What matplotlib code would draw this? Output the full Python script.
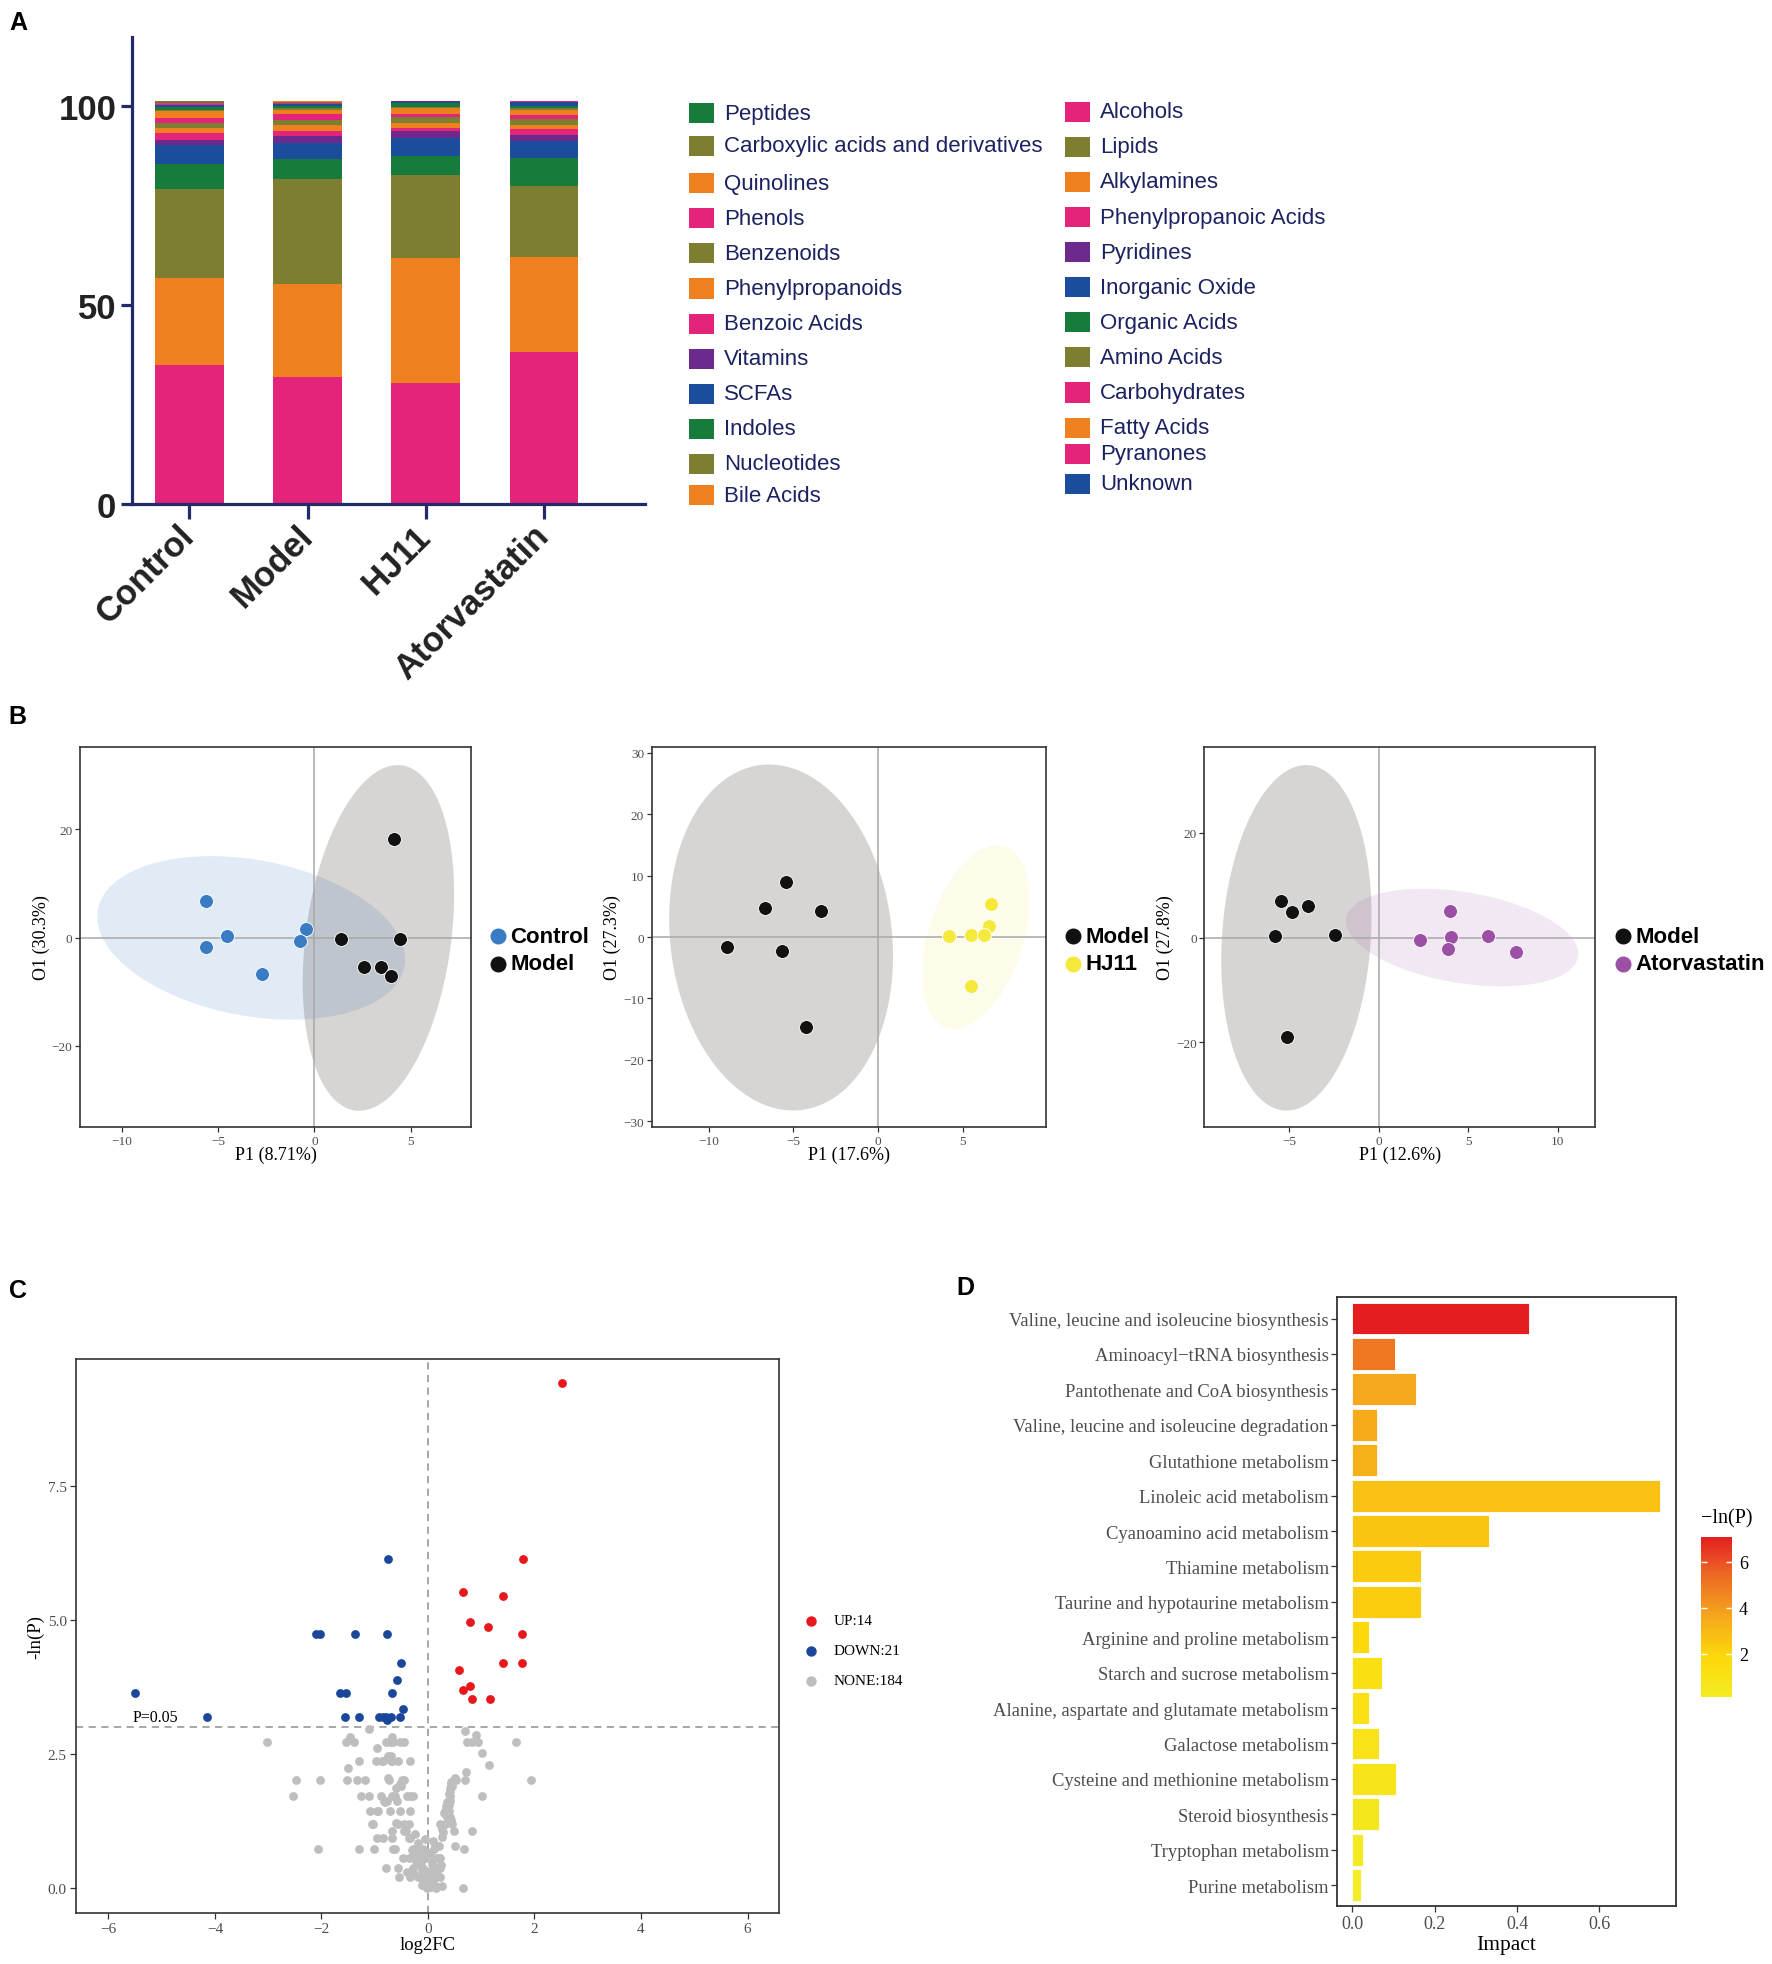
import numpy as np
import matplotlib
matplotlib.use("Agg")
import matplotlib.pyplot as plt
from matplotlib.lines import Line2D
from matplotlib.patches import Rectangle
from matplotlib.colors import LinearSegmentedColormap, Normalize
from matplotlib.cm import ScalarMappable

SANS = "Liberation Sans"
SERIF = "Liberation Serif"

# ---- panel A: metabolite classes (stacked, bottom -> top) ----
groups = ["Control", "Model", "HJ11", "Atorvastatin"]

PINK, ORANGE, OLIVE = "#E4247A", "#EE8020", "#7D7E2F"
GREEN, BLUE, PURPLE = "#167B3B", "#1B4D9C", "#6B2A8C"

class_names = [
    "Alcohols", "Bile Acids", "Nucleotides", "Indoles", "SCFAs", "Vitamins",
    "Benzoic Acids", "Phenylpropanoids", "Benzenoids", "Phenols", "Quinolines",
    "Carboxylic acids and derivatives", "Peptides", "Unknown", "Pyranones",
    "Fatty Acids", "Carbohydrates", "Amino Acids", "Organic Acids",
    "Inorganic Oxide", "Pyridines", "Phenylpropanoic Acids", "Alkylamines", "Lipids",
]
class_colors = [
    PINK, ORANGE, OLIVE, GREEN, BLUE, PURPLE,
    PINK, ORANGE, OLIVE, PINK, ORANGE,
    OLIVE, GREEN, BLUE, PINK,
    ORANGE, PINK, OLIVE, GREEN,
    BLUE, PURPLE, PINK, ORANGE, OLIVE,
]
control_pct = [34.8, 21.8, 22.4, 6.4, 4.6, 1.4, 1.6, 1.4, 1.2, 1.3, 1.7, 0.4,
               0.6, 0.6, 0.15, 0.05, 0.1, 0.05, 0.05, 0.1, 0.05, 0.2, 0.05, 0.05]
model_pct = [31.8, 23.4, 26.3, 5.1, 4.0, 1.7, 1.2, 1.5, 1.3, 1.6, 1.1, 0.4,
             0.4, 0.7, 0.1, 0.05, 0.1, 0.05, 0.05, 0.05, 0.05, 0.05, 0.05, 0.05]
hj11_pct = [30.4, 31.4, 20.7, 4.9, 4.5, 1.7, 0.8, 1.3, 1.4, 0.7, 1.6, 0.3,
            1.0, 0.1, 0.02, 0.1, 0.02, 0.02, 0.02, 0.02, 0.02, 0.02, 0.04, 0.02]
atorva_pct = [38.2, 23.9, 17.8, 6.9, 4.2, 1.5, 1.5, 1.1, 1.4, 1.1, 1.4, 0.3,
              0.6, 1.0, 0.05, 0.05, 0.05, 0.05, 0.02, 0.02, 0.05, 0.02, 0.02, 0.02]

legend_col1 = ["Peptides", "Carboxylic acids and derivatives", "Quinolines", "Phenols",
               "Benzenoids", "Phenylpropanoids", "Benzoic Acids", "Vitamins", "SCFAs",
               "Indoles", "Nucleotides", "Bile Acids"]
legend_col2 = ["Alcohols", "Lipids", "Alkylamines", "Phenylpropanoic Acids", "Pyridines",
               "Inorganic Oxide", "Organic Acids", "Amino Acids", "Carbohydrates",
               "Fatty Acids", "Pyranones", "Unknown"]

# ---- panel B: OPLS-DA scores (P1, O1) ----
b1_control_x = [-5.66, -4.53, -5.64, -2.73, -0.43, -0.75]
b1_control_y = [6.85, 0.30, -1.67, -6.80, 1.54, -0.60]
b1_model_x = [4.12, 1.39, 4.46, 2.55, 3.44, 3.96]
b1_model_y = [18.2, -0.3, -0.3, -5.45, -5.45, -7.1]

b2_model_x = [-5.46, -6.69, -3.35, -8.90, -5.70, -4.26]
b2_model_y = [8.98, 4.79, 4.25, -1.58, -2.29, -14.6]
b2_hj11_x = [6.67, 6.56, 4.18, 5.46, 6.24, 5.51]
b2_hj11_y = [5.44, 1.74, 0.10, 0.40, 0.30, -8.0]

b3_model_x = [-5.45, -4.88, -3.97, -5.79, -2.43, -5.15]
b3_model_y = [7.05, 4.80, 6.10, 0.20, 0.50, -19.0]
b3_atorva_x = [3.95, 2.32, 4.01, 3.86, 6.12, 7.67]
b3_atorva_y = [5.0, -0.5, 0.1, -2.1, 0.3, -2.8]

# ---- panel C: volcano ----
up_x = [2.52, 1.78, 0.66, 1.41, 0.79, 1.12, 1.76, 1.41, 1.76, 0.58, 0.78, 0.66, 0.83, 1.16]
up_y = [9.41, 6.13, 5.51, 5.44, 4.96, 4.87, 4.74, 4.19, 4.19, 4.07, 3.76, 3.70, 3.53, 3.53]
down_x = [-0.75, -2.11, -2.02, -1.37, -0.76, -0.51, -0.58, -5.50, -1.66, -1.53, -0.68,
          -0.46, -4.14, -1.56, -1.29, -0.91, -0.85, -0.78, -0.70, -0.53, -0.76]
down_y = [6.13, 4.74, 4.74, 4.74, 4.74, 4.19, 3.88, 3.64, 3.64, 3.64, 3.64,
          3.33, 3.19, 3.19, 3.19, 3.19, 3.19, 3.19, 3.19, 3.19, 3.13]
none_x = [
    -1.11, 0.69, 0.91, -1.47, -0.67,
    -3.02, -1.54, -1.39, -0.78, -0.72, -0.66, -0.52, -0.45, 0.74, 0.83, 0.94, 1.66,
    -0.95, 1.02, -0.70, -0.75,
    -1.29, -0.98, -0.87, -0.70, -0.56, -0.34, 1.15, -1.51, 0.72,
    -2.47, -2.03, -1.52, -1.34, -1.19, -0.73, -0.49, 0.48, 0.53, 0.70, 1.94,
    -0.53, 0.44, 0.42, -0.60,
    -2.53, -1.26, -1.11, -0.67, -0.61, -0.39, -0.33, -0.28, 0.42, 1.02,
    -0.82, -0.77, 0.41, 0.34, 0.38,
    -1.08, -0.96, -0.72, -0.53, -0.34, 0.32, 0.35, 0.40,
    0.35, 0.42, 0.43,
    -1.04, -0.57, -0.35, 0.23, 0.32, 0.46,
    -0.68, -0.41, 0.49, 0.83,
    -0.96, -0.84, -0.68, -0.36, 0.51,
    -2.06, -1.29, -1.01, -0.66, -0.28, -0.18, -0.09, 0.11, 0.68,
    -0.24, -0.15, -0.07,
    -0.46, -0.35, -0.20, -0.05, 0.16, 0.20, 0.23, -0.13,
    -0.78, -0.57, -0.28, -0.09, 0.10, 0.19, 0.23,
    -0.27, -0.05, 0.06, 0.12,
    -0.54, -0.34, -0.18, 0.16, 0.22,
    -0.09, 0.01, 0.08,
    -0.05, 0.03, 0.09, 0.16, 0.27,
    -0.01, 0.16, 0.66,
    -0.12, 0.00, 0.05, -0.08, 0.12, -0.03, 0.02, 0.15, -0.15, 0.07, -0.22, 0.09, -0.10,
    0.03, -0.30, 0.20, -0.18, 0.10, -0.05, 0.27, -0.25, 0.29, -0.12, 0.25, -0.40, -0.02,
    -0.45, -0.60, -0.80, -0.88, -0.58, -0.50, -0.75, -0.45, -0.68, -0.85, -0.94, -0.45,
    -0.33, -0.62, -1.06,
    0.36, 0.39, 0.44, 0.50, 0.30, 0.27, 0.40, 0.14, 0.42, 0.45,
]
none_y = [
    2.97, 2.93, 2.85, 2.81, 2.81,
    2.73, 2.73, 2.73, 2.73, 2.73, 2.73, 2.73, 2.73, 2.73, 2.73, 2.73, 2.73,
    2.61, 2.52, 2.46, 2.46,
    2.37, 2.37, 2.37, 2.37, 2.37, 2.37, 2.30, 2.24, 2.16,
    2.02, 2.02, 2.02, 2.02, 2.02, 2.02, 2.02, 2.02, 2.02, 2.02, 2.02,
    1.93, 1.93, 1.86, 1.86,
    1.72, 1.72, 1.72, 1.72, 1.72, 1.72, 1.72, 1.72, 1.72, 1.72,
    1.63, 1.63, 1.63, 1.52, 1.52,
    1.43, 1.43, 1.43, 1.43, 1.43, 1.43, 1.43, 1.43,
    1.33, 1.33, 1.26,
    1.19, 1.19, 1.19, 1.19, 1.19, 1.19,
    1.07, 1.07, 1.07, 1.07,
    0.94, 0.94, 0.94, 0.94, 0.78,
    0.73, 0.73, 0.73, 0.73, 0.73, 0.73, 0.73, 0.73, 0.73,
    0.63, 0.63, 0.63,
    0.56, 0.56, 0.56, 0.56, 0.56, 0.56, 0.56, 0.48,
    0.37, 0.37, 0.37, 0.37, 0.37, 0.37, 0.37,
    0.26, 0.26, 0.26, 0.26,
    0.20, 0.20, 0.20, 0.20, 0.20,
    0.11, 0.11, 0.11,
    0.04, 0.04, 0.04, 0.04, 0.04,
    0.00, 0.00, 0.00,
    0.05, 0.08, 0.02, 0.15, 0.18, 0.22, 0.30, 0.33, 0.41, 0.45, 0.50, 0.52, 0.60,
    0.66, 0.70, 0.78, 0.83, 0.88, 0.92, 0.95, 1.00, 1.05, 0.33, 0.42, 0.30, 0.12,
    1.20, 1.22, 1.60, 1.72, 1.63, 1.90, 2.05, 2.02, 2.37, 2.37, 1.43, 1.07,
    0.94, 0.73, 1.19,
    1.60, 1.75, 1.98, 2.05, 1.40, 1.10, 1.55, 0.80, 1.80, 1.90,
]

# ---- panel D: pathway analysis ----
pathways = [
    "Valine, leucine and isoleucine biosynthesis", "Aminoacyl\u2212tRNA biosynthesis",
    "Pantothenate and CoA biosynthesis", "Valine, leucine and isoleucine degradation",
    "Glutathione metabolism", "Linoleic acid metabolism", "Cyanoamino acid metabolism",
    "Thiamine metabolism", "Taurine and hypotaurine metabolism",
    "Arginine and proline metabolism", "Starch and sucrose metabolism",
    "Alanine, aspartate and glutamate metabolism", "Galactose metabolism",
    "Cysteine and methionine metabolism", "Steroid biosynthesis",
    "Tryptophan metabolism", "Purine metabolism",
]
impact = [0.429, 0.104, 0.154, 0.059, 0.059, 0.748, 0.333, 0.166, 0.166,
          0.041, 0.071, 0.040, 0.065, 0.106, 0.065, 0.025, 0.020]
neg_ln_p = [7.09, 5.0, 3.6, 3.5, 3.3, 2.7, 2.55, 2.35, 2.3,
            1.8, 1.25, 1.2, 1.0, 0.8, 0.6, 0.35, 0.13]

# layout is measured on a 1414 x 1568 view of the figure
W, H = 1414.0, 1568.0


def frame(x0, y0, x1, y1):
    return [x0 / W, 1 - y1 / H, (x1 - x0) / W, (y1 - y0) / H]


def at(x, y):
    return (x / W, 1 - y / H)


def conf_ellipse(xs, ys, level=0.95, n=200):
    # normal-theory ellipse like ggplot's stat_ellipse(type = "norm")
    pts = np.column_stack([xs, ys])
    centre = pts.mean(axis=0)
    chol = np.linalg.cholesky(np.cov(pts, rowvar=False))
    dfd = len(xs) - 1
    q = dfd / 2 * ((1 - level) ** (-2 / dfd) - 1)  # F(2, dfd) quantile
    t = np.linspace(0, 2 * np.pi, n)
    circle = np.column_stack([np.cos(t), np.sin(t)])
    ell = centre + np.sqrt(2 * q) * circle @ chol.T
    return ell[:, 0], ell[:, 1]


fig = plt.figure(figsize=(17.72, 19.65), dpi=100)

for letter, (lx, ly) in zip("ABCD", [(15, 18), (14, 572), (14, 1030), (770, 1028)]):
    fig.text(*at(lx, ly), letter, fontsize=18, fontweight="bold", family=SANS,
             ha="center", va="center")

# ================= A =================
NAVY = "#232A6C"
ax = fig.add_axes(frame(105, 30, 515, 403))
stack = np.array([control_pct, model_pct, hj11_pct, atorva_pct])
xpos = np.arange(len(groups))
bottom = np.zeros(len(groups))
for j, col in enumerate(class_colors):
    ax.bar(xpos, stack[:, j], bottom=bottom, width=0.58, color=col, linewidth=0)
    bottom += stack[:, j]
ax.set_xlim(-0.49, 3.86)
ax.set_ylim(0, 117.3)
for s in ("top", "right"):
    ax.spines[s].set_visible(False)
for s in ("left", "bottom"):
    ax.spines[s].set_color(NAVY)
    ax.spines[s].set_linewidth(2.3)
ax.set_yticks([0, 50, 100])
ax.set_yticklabels(["0", "50", "100"], fontsize=25, fontweight="bold", family=SANS,
                   color="#222222")
ax.set_xticks(xpos)
ax.set_xticklabels(groups, rotation=45, ha="right", va="center", rotation_mode="anchor",
                   fontsize=25, fontweight="bold", family=SANS, color="#222222")
ax.tick_params(axis="y", length=8, width=2.3, color=NAVY, pad=3)
ax.tick_params(axis="x", length=11, width=2.3, color=NAVY, pad=8)

color_of = dict(zip(class_names, class_colors))
rows1 = [91, 117, 147, 175, 203, 231, 259, 287, 315, 343, 371, 396]
rows2 = [90, 118, 146, 174, 202, 230, 258, 286, 314, 342, 363, 387]
for names, rows, px in ((legend_col1, rows1, 550), (legend_col2, rows2, 850)):
    for name, ry in zip(names, rows):
        x0, y0 = at(px, ry + 8)
        fig.add_artist(Rectangle((x0, y0), 20 / W, 16 / H, transform=fig.transFigure,
                                 facecolor=color_of[name], edgecolor="none"))
        fig.text(*at(px + 28, ry), name, fontsize=16, family=SANS, color="#1C2260",
                 ha="left", va="center")

# ================= B =================
TICK_GREY = "#4D4D4D"


def opls_panel(box, sets, xlim, ylim, xticks, yticks, xlabel, ylabel, legend_x):
    axb = fig.add_axes(frame(*box))
    for xs, ys, col, fill, alpha, _ in sets:
        ex, ey = conf_ellipse(xs, ys)
        axb.fill(ex, ey, color=fill, alpha=alpha, linewidth=0, zorder=1)
    axb.axhline(0, color="#A8A8A8", lw=1.1, zorder=2)
    axb.axvline(0, color="#A8A8A8", lw=1.1, zorder=2)
    for xs, ys, col, fill, alpha, _ in sets:
        axb.scatter(xs, ys, s=100, color=col, edgecolors="white", linewidths=0.6, zorder=3)
    axb.set_xlim(*xlim)
    axb.set_ylim(*ylim)
    axb.set_xticks(xticks)
    axb.set_yticks(yticks)
    for s in axb.spines.values():
        s.set_color("#333333")
        s.set_linewidth(1.2)
    axb.tick_params(length=3.5, width=0.9, color="#333333", labelsize=9.5,
                    labelcolor=TICK_GREY, pad=2)
    for lab in axb.get_xticklabels() + axb.get_yticklabels():
        lab.set_family(SERIF)
    axb.set_xlabel(xlabel, fontsize=13, family=SERIF)
    axb.set_ylabel(ylabel, fontsize=13, family=SERIF)
    axb.xaxis.set_label_coords(0.5, -0.072)
    axb.yaxis.set_label_coords(-0.1, 0.5)
    axb.xaxis.label.set_va("center")
    axb.yaxis.label.set_va("center")
    for (xs, ys, col, fill, alpha, name), ry in zip(sets, (748, 770)):
        fig.add_artist(Line2D([legend_x / W], [1 - ry / H], marker="o", ms=10.5,
                              color=col, linestyle="none", transform=fig.transFigure))
        fig.text(*at(legend_x + 10, ry), name, fontsize=16, fontweight="bold",
                 family=SANS, ha="left", va="center")
    return axb


C_BLUE, C_BLACK, C_YELLOW, C_PURPLE = "#3A7CC3", "#111111", "#F5E93C", "#9B50A6"
MODEL_FILL = "#3A2F2A"

opls_panel((64, 597, 376, 900),
           [(b1_control_x, b1_control_y, C_BLUE, C_BLUE, 0.15, "Control"),
            (b1_model_x, b1_model_y, C_BLACK, MODEL_FILL, 0.2, "Model")],
           (-12.17, 8.14), (-35.0, 35.2), [-10, -5, 0, 5], [-20, 0, 20],
           "P1 (8.71%)", "O1 (30.3%)", 397)
opls_panel((520, 597, 835, 900),
           [(b2_model_x, b2_model_y, C_BLACK, MODEL_FILL, 0.2, "Model"),
            (b2_hj11_x, b2_hj11_y, C_YELLOW, C_YELLOW, 0.1, "HJ11")],
           (-13.37, 9.94), (-30.9, 30.9), [-10, -5, 0, 5],
           [-30, -20, -10, 0, 10, 20, 30], "P1 (17.6%)", "O1 (27.3%)", 856)
opls_panel((961, 597, 1273, 900),
           [(b3_model_x, b3_model_y, C_BLACK, MODEL_FILL, 0.2, "Model"),
            (b3_atorva_x, b3_atorva_y, C_PURPLE, C_PURPLE, 0.13, "Atorvastatin")],
           (-9.76, 12.1), (-36.2, 36.4), [-5, 0, 5, 10], [-20, 0, 20],
           "P1 (12.6%)", "O1 (27.8%)", 1295)

# ================= C =================
V_RED, V_BLUE, V_GREY = "#E8171B", "#1B479B", "#BEBEBE"
axc = fig.add_axes(frame(61, 1085, 622, 1527))
axc.scatter(none_x, none_y, s=40, color=V_GREY, linewidths=0, zorder=2)
axc.scatter(down_x, down_y, s=40, color=V_BLUE, linewidths=0, zorder=3)
axc.scatter(up_x, up_y, s=40, color=V_RED, linewidths=0, zorder=3)
axc.axhline(-np.log(0.05), color="#A0A0A0", lw=1.3, dashes=(4, 3), zorder=1)
axc.axvline(0, color="#A0A0A0", lw=1.3, dashes=(4, 3), zorder=1)
axc.text(-5.55, -np.log(0.05) + 0.05, "P=0.05", fontsize=11.5, family=SERIF,
         ha="left", va="bottom")
axc.set_xlim(-6.6, 6.6)
axc.set_ylim(-0.46, 9.87)
axc.set_xticks([-6, -4, -2, 0, 2, 4, 6])
axc.set_yticks([0, 2.5, 5.0, 7.5])
axc.set_yticklabels(["0.0", "2.5", "5.0", "7.5"])
for s in axc.spines.values():
    s.set_color("#333333")
    s.set_linewidth(1.2)
axc.tick_params(length=4, width=0.9, color="#333333", labelsize=11,
                labelcolor=TICK_GREY, pad=3)
for lab in axc.get_xticklabels() + axc.get_yticklabels():
    lab.set_family(SERIF)
axc.set_xlabel("log2FC", fontsize=13.5, family=SERIF)
axc.set_ylabel("-ln(P)", fontsize=13.5, family=SERIF)
axc.xaxis.set_label_coords(0.5, -0.057)
axc.yaxis.set_label_coords(-0.058, 0.5)
axc.xaxis.label.set_va("center")
axc.yaxis.label.set_va("center")

for col, name, ry in ((V_RED, "UP:14", 1294), (V_BLUE, "DOWN:21", 1318),
                      (V_GREY, "NONE:184", 1342)):
    fig.add_artist(Line2D([647 / W], [1 - ry / H], marker="o", ms=6.5, color=col,
                          linestyle="none", transform=fig.transFigure))
    fig.text(*at(665, ry), name, fontsize=11, family=SERIF, ha="left", va="center")

# ================= D =================
cmap = LinearSegmentedColormap.from_list(
    "ylred", [(0.0, "#F4EC24"), (0.25, "#FDD80A"), (0.5, "#F5A81C"),
              (0.78, "#EC6424"), (1.0, "#E41E20")])
norm = Normalize(vmin=min(neg_ln_p), vmax=max(neg_ln_p))
axd = fig.add_axes(frame(1067, 1036, 1337, 1522))
ypos = np.arange(1, len(pathways) + 1)
axd.barh(ypos, impact, height=0.9, color=cmap(norm(np.array(neg_ln_p))),
         edgecolor="white", linewidth=0.6)
axd.set_ylim(len(pathways) + 0.6, 0.4)
axd.set_xlim(-0.037, 0.785)
axd.set_yticks(ypos)
axd.set_yticklabels(pathways)
axd.set_xticks([0.0, 0.2, 0.4, 0.6])
axd.set_xticklabels(["0.0", "0.2", "0.4", "0.6"])
for s in axd.spines.values():
    s.set_color("#333333")
    s.set_linewidth(1.3)
axd.tick_params(axis="y", length=4, width=0.9, color="#333333", labelsize=13.4,
                labelcolor=TICK_GREY, pad=2)
axd.tick_params(axis="x", length=4, width=0.9, color="#333333", labelsize=13,
                labelcolor=TICK_GREY, pad=2)
for lab in axd.get_xticklabels() + axd.get_yticklabels():
    lab.set_family(SERIF)
axd.set_xlabel("Impact", fontsize=15.5, family=SERIF)
axd.xaxis.set_label_coords(0.5, -0.063)
axd.xaxis.label.set_va("center")

cax = fig.add_axes(frame(1357, 1227, 1382, 1355))
cb = fig.colorbar(ScalarMappable(norm=norm, cmap=cmap), cax=cax)
cb.outline.set_visible(False)
cb.set_ticks([2, 4, 6])
cax.tick_params(direction="in", color="white", length=4, width=1, left=True,
                right=True, labelleft=False, labelright=True, labelsize=13, pad=5)
for lab in cax.get_yticklabels():
    lab.set_family(SERIF)
fig.text(*at(1378, 1212), "\u2212ln(P)", fontsize=14.5, family=SERIF,
         ha="center", va="center")

fig.savefig("out.png", dpi=100)
